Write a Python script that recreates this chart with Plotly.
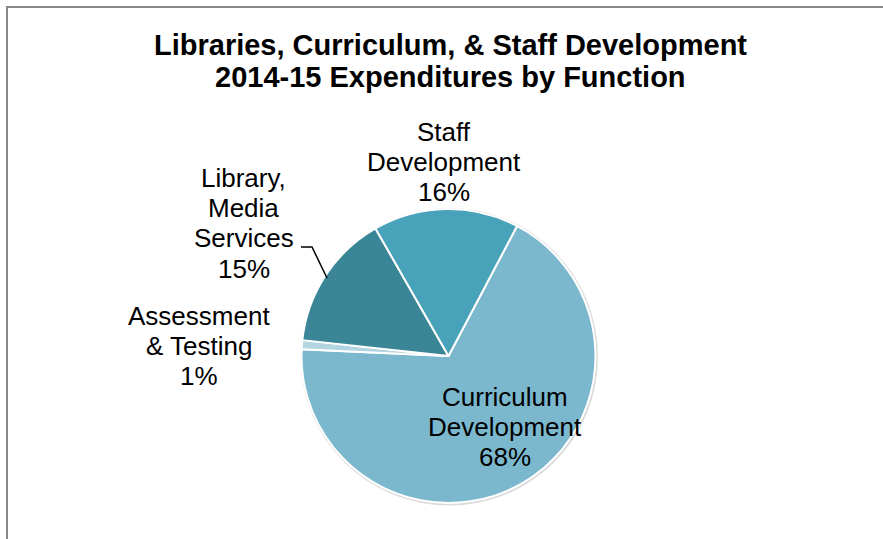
import plotly.graph_objects as go

# Expenditure shares by function, 2014-15 (percent of total)
categories = ["Curriculum Development", "Assessment & Testing",
              "Library, Media Services", "Staff Development"]
label_lines = [["Curriculum", "Development"], ["Assessment", "& Testing"],
               ["Library,", "Media", "Services"], ["Staff", "Development"]]
values = [68, 1, 15, 16]
colors = ["#7BB8CE", "#B3D5E1", "#3A8697", "#48A2B9"]

W, H = 883, 539
CX, CY, R = 448.5, 356, 147          # pie centre and radius in pixels
FONT = "Arial, Liberation Sans, sans-serif"


def px(x):
    return x / W


def py(y):
    return 1 - y / H


fig = go.Figure()
fig.add_trace(go.Pie(
    labels=categories,
    values=values,
    sort=False,
    direction="clockwise",
    rotation=27.8,
    marker=dict(colors=colors, line=dict(color="white", width=2)),
    textinfo="none",
    hoverinfo="label+percent",
    showlegend=False,
    domain=dict(x=[px(CX - R), px(CX + R)], y=[py(CY + R), py(CY - R)]),
))

annotations = []


def add_lines(lines, cx, baselines, size, bold=False):
    for text, base in zip(lines, baselines):
        t = f"<b>{text}</b>" if bold else text
        annotations.append(dict(
            text=t, x=px(cx), y=py(base - 0.3465 * size),
            xref="paper", yref="paper", xanchor="center", yanchor="middle",
            showarrow=False, font=dict(family=FONT, size=size, color="black"),
        ))


total = sum(values)
pct = [f"{round(v / total * 100)}%" for v in values]

# Title
add_lines(["Libraries, Curriculum, & Staff Development",
           "2014-15 Expenditures by Function"], 450, [55, 87], 29, bold=True)

# Slice labels: (centre x, baseline of first line)
label_pos = [(505, 406), (199, 325), (243.5, 187), (444, 141)]
for lines, p, (lx, ly) in zip(label_lines, pct, label_pos):
    all_lines = lines + [p]
    add_lines(all_lines, lx, [ly + 30.2 * i for i in range(len(all_lines))], 26)

shapes = [
    # chart frame
    dict(type="rect", xref="paper", yref="paper",
         x0=px(7), y0=py(7), x1=px(W + 10), y1=py(H + 10),
         line=dict(color="#888888", width=2), fillcolor="rgba(0,0,0,0)"),
    # soft shadow behind the pie
    dict(type="circle", xref="paper", yref="paper", layer="below",
         x0=px(CX - R - 1), y0=py(CY + R + 2.5), x1=px(CX + R + 2.5), y1=py(CY - R - 1),
         line=dict(width=0), fillcolor="rgba(150,150,150,0.35)"),
    # leader line for Library, Media Services
    dict(type="path", xref="paper", yref="paper",
         path=f"M {px(301)},{py(247)} L {px(312)},{py(247)} L {px(327)},{py(278)}",
         line=dict(color="black", width=1.5)),
]

fig.update_layout(
    width=W, height=H,
    margin=dict(l=0, r=0, t=0, b=0),
    paper_bgcolor="white", plot_bgcolor="white",
    annotations=annotations,
    shapes=shapes,
)

fig.write_html("out.html")
